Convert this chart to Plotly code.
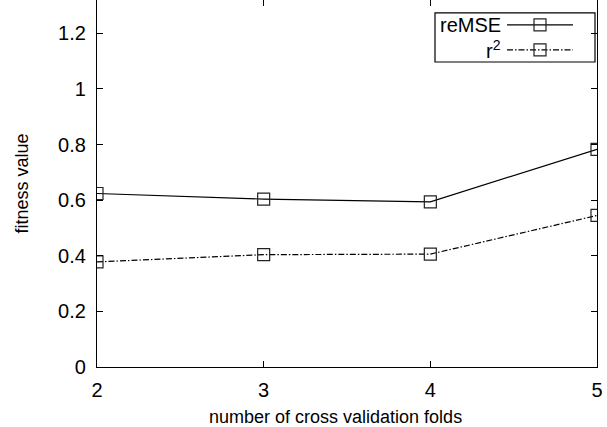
import plotly.graph_objects as go

folds = [2, 3, 4, 5]
remse = [0.624, 0.604, 0.594, 0.783]
r2 = [0.378, 0.404, 0.406, 0.545]
yticks = [0, 0.2, 0.4, 0.6, 0.8, 1, 1.2]
ytick_labels = ["0", "0.2", "0.4", "0.6", "0.8", "1", "1.2"]
names = ["reMSE", "r<sup>2</sup>"]
x_title = "number of cross validation folds"
y_title = "fitness value"

FONT = "Liberation Sans, Arial, sans-serif"
marker = dict(symbol="square-open", size=12, color="#222", line=dict(width=1.2))

fig = go.Figure()
fig.add_trace(go.Scatter(x=folds, y=remse, mode="lines+markers",
                         line=dict(color="black", width=1.2), marker=marker, showlegend=False))
fig.add_trace(go.Scatter(x=folds, y=r2, mode="lines+markers",
                         line=dict(color="black", width=1.2, dash="6px,2px,1.5px,2px"),
                         marker=marker, showlegend=False))

# custom legend (symbol on the right of text, gnuplot style)
leg_rows = [0.932, 0.864]
dashes = ["solid", "6px,2px,1.5px,2px"]
for yy, d in zip(leg_rows, dashes):
    fig.add_trace(go.Scatter(x=[0.82, 0.952], y=[yy, yy], xaxis="x2", yaxis="y2", mode="lines",
                             line=dict(color="black", width=1.2, dash=d), showlegend=False, hoverinfo="skip"))
    fig.add_trace(go.Scatter(x=[0.886], y=[yy], xaxis="x2", yaxis="y2", mode="markers",
                             marker=marker, showlegend=False, hoverinfo="skip"))
for yy, nm in zip(leg_rows, names):
    fig.add_annotation(x=0.812, y=yy, xref="x2", yref="y2", text=nm, showarrow=False,
                       xanchor="right", yanchor="middle", font=dict(family=FONT, size=20, color="black"))
fig.add_shape(type="rect", xref="x2", yref="y2", x0=0.676, x1=0.996, y0=0.831, y1=0.965,
              line=dict(color="black", width=1.2))

# x-axis title (gnuplot centres it slightly left of the plot centre)
fig.add_annotation(x=0.476, y=0, xref="paper", yref="paper", text=x_title, showarrow=False,
                   xanchor="center", yanchor="middle", yshift=-50,
                   font=dict(family=FONT, size=18, color="black"))

axis_common = dict(showline=True, linecolor="black", linewidth=1.2, mirror="ticks",
                   ticks="inside", ticklen=6, tickcolor="black", showgrid=False, zeroline=False,
                   tickfont=dict(family=FONT, size=20, color="black"))
fig.update_layout(
    width=607, height=427,
    margin=dict(l=97, r=10, t=0, b=60),
    paper_bgcolor="white", plot_bgcolor="white",
    xaxis=dict(range=[2, 5], tickvals=folds, ticklabelstandoff=5, **axis_common),
    yaxis=dict(range=[0, 1.32], tickvals=yticks, ticktext=ytick_labels, ticklabelstandoff=6,
               title=dict(text=y_title, standoff=24,
                          font=dict(family=FONT, size=18, color="black")), **axis_common),
    xaxis2=dict(overlaying="x", range=[0, 1], visible=False),
    yaxis2=dict(overlaying="y", range=[0, 1], visible=False),
)
fig.write_html("out.html")
